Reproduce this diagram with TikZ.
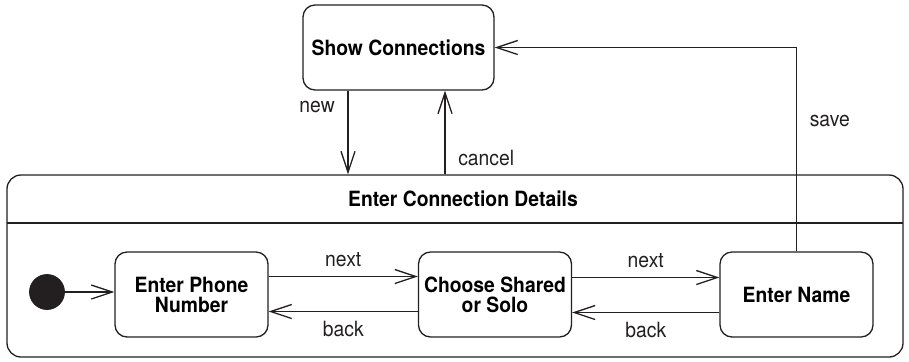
\documentclass[tikz,border=0pt]{standalone}
\usepackage{fontspec}
\setmainfont{TeX Gyre Heros}[FakeStretch=0.92]
\usepackage{tikz}
\usetikzlibrary{arrows.meta, positioning, calc}
\definecolor{mydark}{RGB}{35,31,32}
\tikzset{
  statebox/.style={rectangle, draw=mydark, fill=white,
    minimum width=76.5pt, minimum height=42.5pt, align=center,
    font=\fontsize{10.5}{10}\selectfont\bfseries, rounded corners=6pt,
    line width=0.65pt, inner sep=1pt},
  superbox/.style={rectangle, draw=mydark,
    minimum width=448pt, minimum height=91pt,
    rounded corners=7pt, line width=0.65pt},
  initnode/.style={circle, draw=mydark, fill=mydark,
    minimum size=17.5pt, inner sep=0pt},
  trans/.style={-{Straight Barb[length=10.5pt, width=7pt]}, line width=0.65pt, color=mydark},
  lbl/.style={font=\fontsize{10.5}{12}\selectfont, color=mydark}
}

\begin{document}
\begin{tikzpicture}[x=0.5pt, y=-0.5pt]
  \useasboundingbox (0,0) rectangle (909,361);
  % Top state
  \node[statebox, minimum width=95.5pt] (show) at (398.5,47.5) {Show Connections};
  % Composite state
  \node[superbox] (details) at (455,266) {};
  \node[font=\fontsize{10.5}{12}\selectfont\bfseries] (title) at (463,199) {Enter Connection Details};
  \coordinate (divl) at (7,223);
  \coordinate (divr) at (903,223);
  \draw[line width=0.65pt, color=mydark] (divl) -- (divr);
  % Inner states
  \node[initnode] (init) at (47,292) {};
  \node[statebox] (phone) at (191.5,294.5) {Enter Phone\\Number};
  \node[statebox] (choose) at (495,294.5) {Choose Shared\\or Solo};
  \node[statebox] (name) at (796.5,294.5) {Enter Name};
  % Transitions
  \draw[trans] (init) -- (phone.west |- init);
  \draw[trans] ([yshift=9pt]phone.east) -- ([yshift=9pt]choose.west)
    node[lbl, midway, above, yshift=1pt] {next};
  \draw[trans] ([yshift=-8.5pt]choose.west) -- ([yshift=-8.5pt]phone.east)
    node[lbl, midway, below, yshift=-1pt] {back};
  \draw[trans] ([yshift=8.5pt]choose.east) -- ([yshift=8.5pt]name.west)
    node[lbl, midway, above, yshift=1pt] {next};
  \draw[trans] ([yshift=-9pt]name.west) -- ([yshift=-9pt]choose.east)
    node[lbl, midway, below, yshift=-1pt] {back};
  \draw[trans] ([xshift=-25.25pt]show.south) -- ([xshift=-25.25pt]show.south |- details.north)
    node[lbl, pos=0.2, left, xshift=-3pt] {new};
  \draw[trans] ([xshift=23.25pt]show.south |- details.north) -- ([xshift=23.25pt]show.south)
    node[lbl, pos=0.2, right, xshift=3pt] {cancel};
  \draw[trans] (name.north) |- (show.east)
    node[lbl, pos=0.32, right, xshift=3pt] {save};
\end{tikzpicture}
\end{document}
